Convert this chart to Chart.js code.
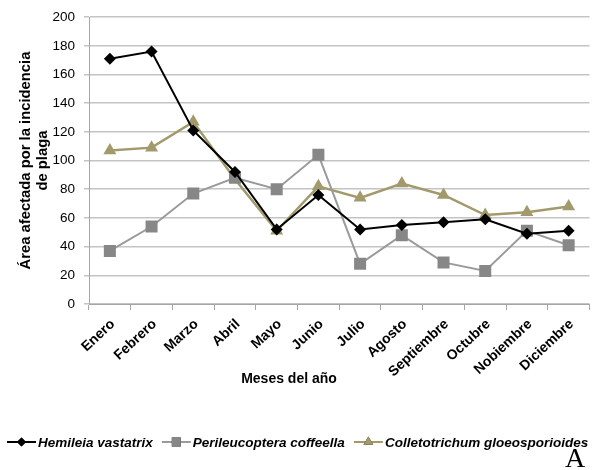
<!DOCTYPE html>
<html>
<head>
<meta charset="utf-8">
<script src="https://cdn.jsdelivr.net/npm/chart.js@4.4.1/dist/chart.umd.min.js"></script>
<style>
    html, body { margin: 0; padding: 0; background: #ffffff; }
    #wrap { width: 598px; height: 470px; }
</style>
</head>
<body>
<div id="wrap"><canvas id="pest-chart" width="598" height="470"></canvas></div>
<script>
// Monthly area affected by each pest
const months = ['Enero', 'Febrero', 'Marzo', 'Abril', 'Mayo', 'Junio', 'Julio',
    'Agosto', 'Septiembre', 'Octubre', 'Nobiembre', 'Diciembre'];
const hemileia = [171, 176, 121, 92, 52, 76, 52, 55, 57, 59, 49, 51];
const perileucoptera = [37, 54, 77, 88, 80, 104, 28, 48, 29, 23, 51, 41];
const colletotrichum = [107, 109, 127, 87, 51, 82, 74, 84, 76, 62, 64, 68];
const seriesNames = ['Hemileia vastatrix', 'Perileucoptera coffeella', 'Colletotrichum gloeosporioides'];
const yTicks = [0, 200, 20];
const yTitle = ['Área afectada por la incidencia', 'de plaga'];
const xTitle = 'Meses del año';

const FONT = '"Liberation Sans", Arial, sans-serif';

// Legend below the axis: line segment with the marker in its middle, italic names
const bottomLegend = {
    id: 'bottomLegend',
    afterDraw(chart) {
        const ctx = chart.ctx;
        ctx.save();
        ctx.font = 'bold 14px ' + FONT;
        ctx.fillStyle = '#000';
        ctx.textAlign = 'center';
        ctx.textBaseline = 'middle';
        ctx.fillText(xTitle, 289, 379);

        ctx.font = 'italic bold 13.5px ' + FONT;
        ctx.textAlign = 'left';
        let x = 7;
        const y = 442;
        chart.data.datasets.forEach((ds) => {
            ctx.strokeStyle = ds.borderColor;
            ctx.lineWidth = 2;
            ctx.beginPath();
            ctx.moveTo(x, y);
            ctx.lineTo(x + 29, y);
            ctx.stroke();
            Chart.helpers.drawPoint(ctx, {
                pointStyle: ds.pointStyle,
                radius: ds.pointRadius * 0.75,
                borderWidth: 0
            }, x + 14.5, y);
            ctx.fillStyle = ds.pointBackgroundColor;
            ctx.fill();
            ctx.fillStyle = '#000';
            ctx.fillText(ds.label, x + 31, y + 1);
            x += 31 + ctx.measureText(ds.label).width + 9;
        });

        ctx.font = '28px "Liberation Serif", "DejaVu Serif", serif';
        ctx.textAlign = 'center';
        ctx.textBaseline = 'alphabetic';
        ctx.fillText('A', 575, 467);
        ctx.restore();
    }
};

new Chart(document.getElementById('pest-chart'), {
    type: 'line',
    data: {
        labels: months,
        datasets: [{
            label: seriesNames[0],
            data: hemileia,
            borderColor: '#000000',
            backgroundColor: '#000000',
            pointBackgroundColor: '#000000',
            pointBorderWidth: 0,
            pointStyle: 'rectRot',
            pointRadius: 6,
            borderWidth: 2
        }, {
            label: seriesNames[1],
            data: perileucoptera,
            borderColor: '#9a9a9a',
            backgroundColor: '#878787',
            pointBackgroundColor: '#878787',
            pointBorderWidth: 0,
            pointStyle: 'rect',
            pointRadius: 8.5,
            borderWidth: 2
        }, {
            label: seriesNames[2],
            data: colletotrichum,
            borderColor: '#a39a6c',
            backgroundColor: '#a39a6c',
            pointBackgroundColor: '#a39a6c',
            pointBorderWidth: 0,
            pointStyle: 'triangle',
            pointRadius: 7.5,
            borderWidth: 2.5
        }]
    },
    options: {
        responsive: false,
        animation: false,
        devicePixelRatio: 1,
        layout: { padding: { top: 17, right: 6, bottom: 78, left: 0 } },
        plugins: {
            legend: { display: false },
            tooltip: { enabled: false }
        },
        scales: {
            x: {
                offset: true,
                grid: {
                    offset: true,
                    drawOnChartArea: false,
                    drawTicks: true,
                    tickLength: 6,
                    color: '#a6a6a6'
                },
                border: { color: '#a6a6a6', width: 1 },
                ticks: {
                    color: '#000',
                    font: { family: FONT, size: 14, weight: 'bold' },
                    minRotation: 43,
                    maxRotation: 43,
                    labelOffset: 3,
                    padding: 6
                },
                afterFit: (scale) => { scale.height = 88; }
            },
            y: {
                min: yTicks[0],
                max: yTicks[1],
                ticks: {
                    stepSize: yTicks[2],
                    color: '#000',
                    font: { family: FONT, size: 13.5 },
                    padding: 9
                },
                grid: { color: '#c4c4c4', lineWidth: 1.5, tickLength: 5 },
                border: { color: '#a6a6a6', width: 1 },
                title: {
                    display: true,
                    text: yTitle,
                    color: '#000',
                    font: { family: FONT, size: 14.8, weight: 'bold', lineHeight: 1.1 },
                    padding: { top: 18, bottom: 0 }
                },
                afterFit: (scale) => { scale.width = 89; }
            }
        }
    },
    plugins: [bottomLegend]
});
</script>
</body>
</html>
